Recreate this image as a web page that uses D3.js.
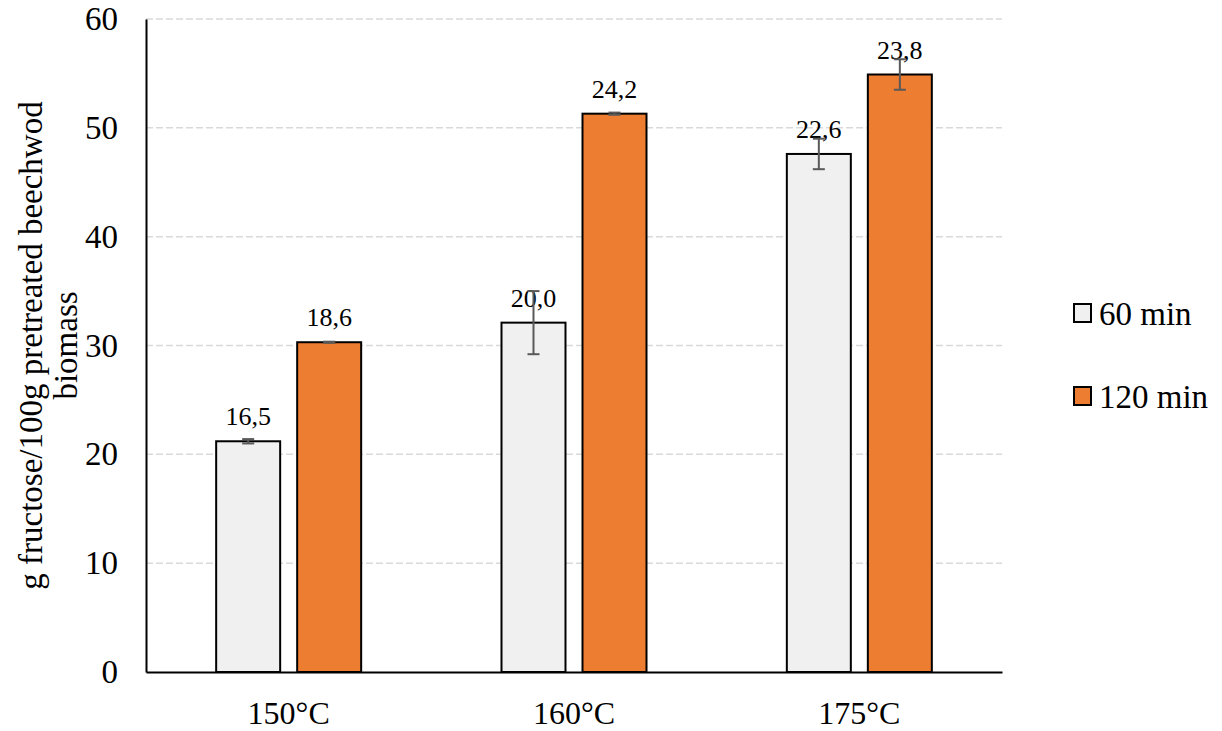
<!DOCTYPE html>
<html>
<head>
<meta charset="utf-8">
<script src="https://cdn.jsdelivr.net/npm/d3@7"></script>
<style>
  body { margin: 0; background: #fff; }
  svg { display: block; font-family: "Liberation Serif", "Times New Roman", serif; }
</style>
</head>
<body>
<svg id="chart" width="1222" height="731"></svg>
<script>
// Data
const categories = ['150°C', '160°C', '175°C'];
const seriesNames = ['60 min', '120 min'];
const values60 = [21.2, 32.1, 47.6];
const values120 = [30.3, 51.3, 54.9];
const errors60 = [0.2, 2.9, 1.4];
const errors120 = [0.05, 0.1, 1.4];
const labels60 = ['16,5', '20,0', '22,6'];
const labels120 = ['18,6', '24,2', '23,8'];
const yTicks = [0, 10, 20, 30, 40, 50, 60];

const colors = { '60 min': '#f0f0f0', '120 min': '#ed7d31' };
const serif = '"Liberation Serif", "Times New Roman", serif';

const svg = d3.select('#chart');
const margin = { top: 19, right: 220, bottom: 59, left: 146 };
const width = 1222 - margin.left - margin.right;
const height = 731 - margin.top - margin.bottom;

const g = svg.append('g').attr('transform', `translate(${margin.left},${margin.top})`);

const x0 = d3.scaleBand().domain(categories).range([0, width]).padding(0);
const groupW = 145;
const x1 = d3.scaleBand().domain(seriesNames)
    .range([(x0.bandwidth() - groupW) / 2, (x0.bandwidth() + groupW) / 2])
    .paddingInner(0.21);
const y = d3.scaleLinear().domain([0, 60]).range([height, 0]);

// Gridlines
g.append('g')
    .selectAll('line')
    .data(yTicks.filter(d => d > 0))
    .join('line')
    .attr('x1', 0)
    .attr('x2', width)
    .attr('y1', d => y(d))
    .attr('y2', d => y(d))
    .attr('stroke', '#d9d9d9')
    .attr('stroke-width', 1.5)
    .attr('stroke-dasharray', '7,3');

// Y axis
const yAxis = g.append('g')
    .call(d3.axisLeft(y).tickValues(yTicks).tickSize(0).tickPadding(0));
yAxis.select('.domain').attr('stroke', '#000').attr('stroke-width', 2);
yAxis.selectAll('text')
    .attr('x', -28)
    .attr('text-anchor', 'end')
    .attr('font-size', '33px')
    .attr('font-family', serif)
    .attr('fill', '#000');

// Rows
const rows = categories.map((c, i) => ({
    cat: c,
    bars: [
        { s: '60 min', v: values60[i], e: errors60[i], l: labels60[i] },
        { s: '120 min', v: values120[i], e: errors120[i], l: labels120[i] }
    ]
}));

const groups = g.append('g')
    .selectAll('g')
    .data(rows)
    .join('g')
    .attr('transform', d => `translate(${x0(d.cat)},0)`);

groups.selectAll('rect')
    .data(d => d.bars)
    .join('rect')
    .attr('x', d => x1(d.s))
    .attr('y', d => y(d.v))
    .attr('width', x1.bandwidth())
    .attr('height', d => height - y(d.v))
    .attr('fill', d => colors[d.s])
    .attr('stroke', '#000')
    .attr('stroke-width', 2);

// Data labels
groups.selectAll('text.lbl')
    .data(d => d.bars)
    .join('text')
    .attr('class', 'lbl')
    .attr('x', d => x1(d.s) + x1.bandwidth() / 2)
    .attr('y', d => y(d.v) - 16)
    .attr('text-anchor', 'middle')
    .attr('font-size', '26px')
    .attr('fill', '#000')
    .text(d => d.l);

// Error bars
const err = groups.selectAll('g.err')
    .data(d => d.bars)
    .join('g')
    .attr('class', 'err')
    .attr('stroke', '#595959')
    .attr('stroke-width', 2);
err.append('line')
    .attr('x1', d => x1(d.s) + x1.bandwidth() / 2)
    .attr('x2', d => x1(d.s) + x1.bandwidth() / 2)
    .attr('y1', d => y(d.v + d.e))
    .attr('y2', d => y(d.v - d.e));
[1, -1].forEach(sign => {
    err.append('line')
        .attr('x1', d => x1(d.s) + x1.bandwidth() / 2 - 6)
        .attr('x2', d => x1(d.s) + x1.bandwidth() / 2 + 6)
        .attr('y1', d => y(d.v + sign * d.e))
        .attr('y2', d => y(d.v + sign * d.e));
});

// X axis
const xAxis = g.append('g')
    .attr('transform', `translate(0,${height})`)
    .call(d3.axisBottom(x0).tickSize(0).tickPadding(0));
xAxis.select('.domain').attr('stroke', '#000').attr('stroke-width', 2);
xAxis.selectAll('text')
    .attr('y', 52)
    .attr('dy', 0)
    .attr('font-size', '32px')
    .attr('font-family', serif)
    .attr('fill', '#000');

// Y title
const yTitle = svg.append('text')
    .attr('transform', `translate(0,${margin.top + height / 2}) rotate(-90)`)
    .attr('text-anchor', 'middle')
    .attr('font-size', '33px')
    .attr('fill', '#000');
yTitle.append('tspan').attr('x', 0).attr('y', 42)
    .text('g fructose/100g pretreated beechwod');
yTitle.append('tspan').attr('x', 0).attr('y', 77).text('biomass');

// Legend
const legend = svg.append('g').attr('transform', 'translate(1074,0)');
const legendY = [304, 387];
seriesNames.forEach((s, i) => {
    legend.append('rect')
        .attr('x', 0)
        .attr('y', legendY[i])
        .attr('width', 17)
        .attr('height', 18)
        .attr('fill', colors[s])
        .attr('stroke', '#000')
        .attr('stroke-width', 2);
    legend.append('text')
        .attr('x', 25)
        .attr('y', legendY[i] + 21)
        .attr('font-size', '33px')
        .attr('fill', '#000')
        .text(s);
});
</script>
</body>
</html>
